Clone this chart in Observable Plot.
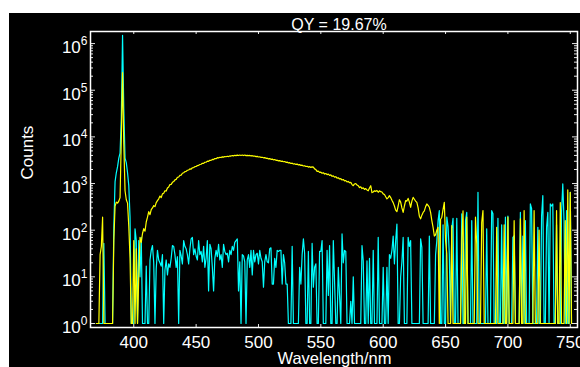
<!DOCTYPE html>
<html>
<head>
<meta charset="utf-8">
<script src="https://cdn.jsdelivr.net/npm/d3@7"></script>
<script src="https://cdn.jsdelivr.net/npm/@observablehq/plot@0.6"></script>
<style>
  html, body { margin: 0; padding: 0; background: #fff; overflow: hidden; }
  #panel { position: absolute; left: 9px; top: 13px; width: 571px; height: 354px; background: #000; overflow: hidden; }
  #panel svg { display: block; }
</style>
</head>
<body>
<div id="panel"></div>
<script>
// Emission spectra on a log count axis, 1 nm steps from 370 nm to 752 nm.
const wavelengths = d3.range(370, 753);

// Sample (yellow): scatter peak at ~391 nm plus broad emission band.
const sampleCounts = [
  1, 1, 1, 30, 45, 190, 1, 1, 1, 1,                                   // 370
  1, 1, 1, 1, 60, 330, 400, 380, 420, 500,                            // 380
  9000, 240000, 7000, 700, 450, 380, 120, 25, 1, 1,                   // 390
  60, 1, 40, 1, 10, 70, 55, 85, 108, 95,                              // 400
  150, 190, 250, 215, 275, 300, 336, 320, 390, 430,                   // 410
  470, 540, 500, 600, 620, 700, 690, 800, 840, 950,                   // 420
  960, 1060, 1100, 1200, 1230, 1360, 1380, 1500, 1520, 1660,          // 430
  1700, 1800, 1820, 1930, 1950, 2060, 2040, 2180, 2200, 2300,         // 440
  2320, 2430, 2450, 2560, 2590, 2720, 2700, 2860, 2870, 3020,         // 450
  3000, 3160, 3140, 3300, 3270, 3430, 3410, 3580, 3540, 3660,         // 460
  3610, 3740, 3690, 3800, 3750, 3850, 3790, 3900, 3880, 3980,         // 470
  3920, 4030, 3960, 4070, 3980, 4080, 3990, 4090, 3980, 4080,         // 480
  3970, 4030, 3960, 4000, 3910, 3950, 3860, 3880, 3780, 3820,         // 490
  3710, 3740, 3630, 3660, 3560, 3600, 3470, 3490, 3380, 3420,         // 500
  3310, 3340, 3230, 3260, 3150, 3170, 3060, 3100, 3000, 3020,         // 510
  2930, 2960, 2850, 2880, 2770, 2800, 2690, 2730, 2620, 2660,         // 520
  2570, 2610, 2510, 2550, 2450, 2480, 2380, 2410, 2320, 2350,         // 530
  2250, 2300, 2220, 2270, 2240, 2060, 1990, 1820, 1840, 1730,         // 540
  1750, 1660, 1700, 1600, 1640, 1550, 1590, 1500, 1530, 1430,         // 550
  1460, 1370, 1400, 1300, 1330, 1250, 1270, 1190, 1220, 1140,         // 560
  1160, 1080, 1110, 1040, 1060, 950, 900, 980, 1000, 930,             // 570
  900, 820, 850, 780, 810, 750, 780, 730, 700, 800,                   // 580
  900, 640, 660, 700, 680, 710, 650, 700, 670, 660,                   // 590
  600, 580, 520, 470, 500, 550, 500, 440, 390, 330,                   // 600
  270, 250, 330, 450, 400, 300, 240, 330, 430, 420,                   // 610
  480, 400, 310, 420, 505, 460, 420, 395, 300, 200,                   // 620
  175, 210, 240, 260, 320, 365, 340, 310, 240, 160,                   // 630
  115, 75, 80, 100, 115, 1, 170, 190, 280, 395,                       // 640
  60, 31, 1, 1, 1, 125, 1, 1, 1, 1,                                   // 650
  1, 1, 1, 60, 260, 1, 1, 190, 1, 1,                                  // 660
  1, 1, 1, 1, 190, 50, 1, 1, 1, 148,                                  // 670
  263, 1, 1, 1, 1, 1, 1, 1, 1, 1,                                     // 680
  1, 115, 1, 1, 1, 1, 1, 130, 1, 1,                                   // 690
  190, 1, 1, 1, 1, 160, 1, 1, 1, 1,                                   // 700
  175, 1, 1, 263, 1, 1, 1, 1, 1, 1,                                   // 710
  1, 263, 1, 1, 1, 100, 1, 1, 1, 1,                                   // 720
  1, 1, 1, 1, 1, 1, 1, 1, 1, 263,                                     // 730
  1, 1, 390, 1, 1, 1, 160, 1, 730, 1,                                 // 740
  650, 1, 1                                                           // 750
];

// Blank (cyan): excitation peak only, noise floor elsewhere.
const blankCounts = [
  1, 1, 1, 1, 1, 1, 52, 1, 1, 1,                                      // 370
  1, 1, 1, 1, 115, 1100, 1700, 2300, 3500, 4500,                      // 380
  25000, 1500000, 40000, 3500, 2800, 1700, 900, 190, 1, 1,            // 390
  1, 107, 60, 1, 60, 10, 70, 1, 1, 1,                                 // 400
  17, 1, 1, 23, 37, 47, 20, 1, 15, 37,                                // 410
  23, 20, 17, 30, 1, 14, 23, 11, 19, 16,                              // 420
  25, 47, 45, 30, 16, 27, 1, 37, 28, 19,                              // 430
  60, 45, 40, 30, 19, 40, 65, 70, 30, 40,                             // 440
  28, 23, 60, 30, 35, 21, 45, 16, 25, 60,                             // 450
  5, 50, 40, 16, 5, 25, 37, 27, 50, 23,                               // 460
  30, 16, 50, 35, 30, 32, 21, 37, 30, 45,                             // 470
  37, 55, 60, 65, 5, 21, 1, 30, 28, 21,                               // 480
  1, 23, 30, 16, 37, 11, 37, 21, 30, 32,                              // 490
  19, 37, 25, 21, 6, 21, 30, 21, 20, 40,                              // 500
  42, 7, 7, 25, 16, 37, 35, 37, 37, 7,                                // 510
  30, 20, 7, 7, 1, 1, 1, 45, 1, 1,                                    // 520
  1, 1, 1, 16, 7, 30, 65, 32, 1, 1,                                   // 530
  35, 1, 1, 52, 6, 16, 19, 1, 1, 35,                                  // 540
  35, 60, 1, 1, 1, 37, 4, 47, 1, 1,                                   // 550
  60, 8, 1, 1, 16, 4, 1, 83, 20, 37,                                  // 560
  35, 1, 1, 1, 3, 1, 10, 1, 1, 1,                                     // 570
  1, 1, 1, 47, 22, 1, 1, 22, 1, 25,                                   // 580
  1, 1, 37, 1, 1, 1, 70, 1, 1, 1,                                     // 590
  16, 1, 1, 16, 1, 30, 25, 37, 75, 19,                                // 600
  60, 135, 1, 1, 10, 21, 70, 1, 1, 1,                                 // 610
  70, 45, 60, 1, 1, 1, 1, 1, 1, 1,                                    // 620
  65, 43, 1, 1, 1, 1, 1, 75, 1, 1,                                    // 630
  1, 1, 30, 60, 160, 263, 1, 1, 130, 1,                               // 640
  1, 190, 120, 31, 1, 110, 180, 1, 1, 180,                            // 650
  1, 1, 1, 225, 1, 1, 160, 240, 1, 1,                                 // 660
  1, 160, 1, 1, 1, 1, 650, 1, 1, 1,                                   // 670
  1, 1, 1, 107, 1, 1, 1, 263, 225, 1,                                 // 680
  1, 1, 180, 1, 1, 130, 1, 1, 190, 1,                                 // 690
  200, 1, 1, 1, 70, 76, 1, 1, 1, 1,                                   // 700
  240, 1, 75, 1, 160, 1, 1, 1, 365, 290,                              // 710
  1, 1, 1, 1, 115, 1, 1, 200, 550, 1,                                 // 720
  1, 115, 240, 1, 365, 330, 365, 1, 1, 130,                           // 730
  1, 1, 1, 240, 980, 160, 1, 263, 1, 1,                               // 740
  650, 1, 1                                                           // 750
];

const xTicks = [400, 450, 500, 550, 600, 650, 700, 750];
const yTicks = [1, 10, 100, 1000, 10000, 100000, 1000000];
const yMinorTicks = yTicks.slice(0, 6).flatMap(p => [2, 3, 4, 5, 6, 7, 8, 9].map(m => m * p));

const titleText = "QY = 19.67%";
const xLabel = "Wavelength/nm";
const yLabel = "Counts";

const sample = wavelengths.map((nm, i) => ({nm, counts: sampleCounts[i]}));
const blank = wavelengths.map((nm, i) => ({nm, counts: blankCounts[i]}));

const W = 571, H = 354;
const mL = 81, mR = 3, mT = 18, mB = 40;
const innerW = W - mL - mR, innerH = H - mT - mB;
const tickColor = "#e6e6e6";
const font = "'Liberation Sans', Arial, Helvetica, sans-serif";

const chart = Plot.plot({
  width: W,
  height: H,
  marginLeft: mL,
  marginRight: mR,
  marginTop: mT,
  marginBottom: mB,
  style: {background: "transparent", color: "#fff", fontFamily: font, fontSize: "17px", overflow: "visible"},
  x: {domain: [365.3, 755.8]},
  y: {type: "log", domain: [0.821, 1.815e6]},
  marks: [
    Plot.lineY(blank, {x: "nm", y: "counts", stroke: "#00ffff", strokeWidth: 1.2}),
    Plot.lineY(sample, {x: "nm", y: "counts", stroke: "#ffff00", strokeWidth: 1.2}),

    // inward ticks on all four sides
    Plot.tickX(xTicks, {x: d => d, stroke: tickColor, insetTop: innerH - 3}),
    Plot.tickX(xTicks, {x: d => d, stroke: tickColor, insetBottom: innerH - 3}),
    Plot.tickY(yTicks, {y: d => d, stroke: tickColor, insetRight: innerW - 5}),
    Plot.tickY(yMinorTicks, {y: d => d, stroke: tickColor, insetRight: innerW - 3}),
    Plot.tickY(yTicks, {y: d => d, stroke: tickColor, insetLeft: innerW - 5}),
    Plot.tickY(yMinorTicks, {y: d => d, stroke: tickColor, insetLeft: innerW - 3}),
    Plot.frame({stroke: "#fff", strokeWidth: 1.5}),

    Plot.axisX({ticks: xTicks, tickSize: 0, tickPadding: 8, fontSize: 17, fill: "#fff", label: null}),
    Plot.axisY({ticks: yTicks, tickSize: 0, tickPadding: 3, fontSize: 17, fill: "#fff", dy: 4, label: null,
                tickFormat: d => String(Math.round(Math.log10(d)))}),

    Plot.text([titleText], {frameAnchor: "top", lineAnchor: "bottom", dx: 5, dy: -1.5, fontSize: 16, fill: "#fff"}),
    Plot.text([xLabel], {frameAnchor: "bottom", lineAnchor: "bottom", dx: 0.5, dy: 36.7, fontSize: 16.5, fill: "#fff"}),
    Plot.text([yLabel], {frameAnchor: "left", lineAnchor: "bottom", rotate: -90, dx: -57.5, dy: 0, fontSize: 17, fill: "#fff"})
  ]
});

// Powers of ten as "10" with a raised exponent
d3.select(chart).selectAll('g[aria-label="y-axis tick label"] text').each(function () {
  const exp = this.textContent;
  this.textContent = "10";
  d3.select(this).append("tspan").attr("font-size", 12).attr("dy", -8).text(exp);
});

document.getElementById("panel").appendChild(chart);
</script>
</body>
</html>
